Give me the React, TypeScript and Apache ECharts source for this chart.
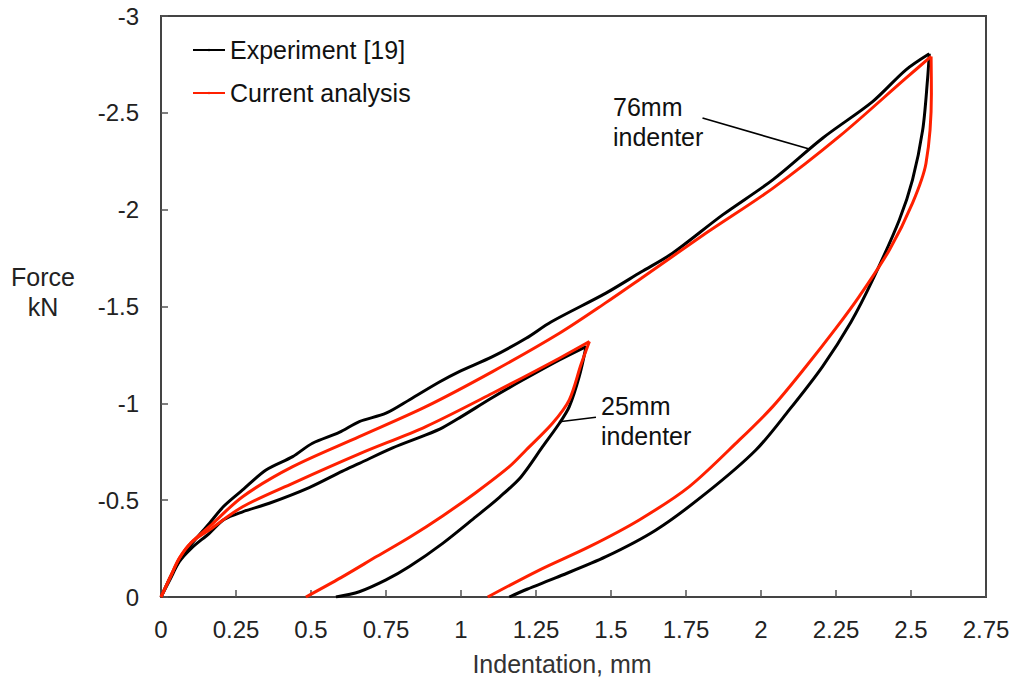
import React, { useEffect, useRef } from "react";
import * as echarts from "echarts";

const xTicks = { min: 0, max: 2.75, interval: 0.25 };
const yTicks = { min: -3, max: 0, interval: 0.5 };

const expName = "Experiment [19]";
const simName = "Current analysis";

// 76mm indenter, experiment
const exp76Load: number[][] = [
  [0, 0], [0.03, -0.1], [0.062, -0.19], [0.1, -0.27], [0.161, -0.38], [0.21, -0.47],
  [0.272, -0.553], [0.35, -0.656], [0.439, -0.725], [0.505, -0.794], [0.594, -0.85],
  [0.661, -0.906], [0.75, -0.949], [0.83, -1.02], [0.928, -1.11], [0.994, -1.164],
  [1.105, -1.241], [1.217, -1.336], [1.3, -1.42], [1.483, -1.569], [1.6, -1.678],
  [1.705, -1.775], [1.872, -1.973], [2.039, -2.154], [2.205, -2.369], [2.372, -2.558],
  [2.483, -2.722], [2.561, -2.805],
];
const exp76Unload: number[][] = [
  [2.561, -2.805], [2.555, -2.67], [2.539, -2.412], [2.505, -2.154], [2.461, -1.947],
  [2.372, -1.637], [2.3, -1.42], [2.205, -1.19], [2.094, -0.966], [1.983, -0.759],
  [1.817, -0.536], [1.65, -0.346], [1.483, -0.208], [1.317, -0.1], [1.22, -0.04], [1.161, 0],
];

// 76mm indenter, current analysis
const sim76Load: number[][] = [
  [0, 0], [0.03, -0.1], [0.061, -0.2], [0.1, -0.28], [0.161, -0.363], [0.272, -0.518],
  [0.439, -0.673], [0.661, -0.828], [0.883, -0.983], [1.105, -1.164], [1.328, -1.362],
  [1.483, -1.52], [1.6, -1.645], [1.817, -1.879], [2.039, -2.11], [2.261, -2.378],
  [2.483, -2.679], [2.567, -2.791],
];
const sim76Unload: number[][] = [
  [2.567, -2.791], [2.568, -2.6], [2.55, -2.24], [2.505, -2.034], [2.428, -1.792],
  [2.327, -1.551], [2.25, -1.388], [2.15, -1.19], [2.039, -0.983], [1.928, -0.811],
  [1.761, -0.57], [1.594, -0.398], [1.428, -0.26], [1.261, -0.139], [1.089, 0],
];

// 25mm indenter, experiment
const exp25Load: number[][] = [
  [0, 0], [0.03, -0.09], [0.061, -0.182], [0.1, -0.25], [0.161, -0.329], [0.21, -0.4],
  [0.272, -0.44], [0.361, -0.484], [0.494, -0.565], [0.605, -0.65], [0.661, -0.69],
  [0.772, -0.77], [0.883, -0.837], [0.939, -0.875], [1.0, -0.93], [1.105, -1.03],
  [1.2, -1.115], [1.328, -1.224], [1.417, -1.293],
];
const exp25Unload: number[][] = [
  [1.417, -1.293], [1.394, -1.138], [1.361, -0.983], [1.328, -0.897], [1.272, -0.776],
  [1.2, -0.62], [1.128, -0.515], [1.05, -0.415], [0.939, -0.277], [0.828, -0.157],
  [0.75, -0.088], [0.661, -0.027], [0.583, 0],
];

// 25mm indenter, current analysis
const sim25Load: number[][] = [
  [0, 0], [0.03, -0.1], [0.061, -0.2], [0.1, -0.28], [0.161, -0.346], [0.272, -0.466],
  [0.439, -0.587], [0.661, -0.739], [0.883, -0.88], [1.105, -1.052], [1.328, -1.233],
  [1.428, -1.319],
];
const sim25Unload: number[][] = [
  [1.428, -1.319], [1.4, -1.2], [1.361, -1.018], [1.305, -0.897], [1.217, -0.759],
  [1.161, -0.673], [1.05, -0.54], [0.94, -0.42], [0.83, -0.31], [0.72, -0.21],
  [0.6, -0.1], [0.483, 0],
];

// leader lines of the annotations, in data coordinates
const leader76 = [[1.805, -2.473], [2.161, -2.313]];
const leader25 = [[1.45, -0.928], [1.328, -0.905]];

const FONT = "Liberation Sans, Arial, sans-serif";
const BLACK = "#000";
const RED = "#ff2000";

export default function App() {
  const ref = useRef<HTMLDivElement>(null);
  useEffect(() => {
    if (!ref.current) return;
    const chart = echarts.init(ref.current, undefined, { renderer: "svg" });
    const lineSeries = (name: string, data: number[][], color: string, extra: any = {}) => ({
      type: "line",
      name,
      data,
      symbol: "none",
      smooth: 0.3,
      lineStyle: { color, width: 3 },
      itemStyle: { color },
      ...extra,
    });
    chart.setOption({
      animation: false,
      backgroundColor: "#fff",
      textStyle: { fontFamily: FONT },
      grid: {
        left: 161, right: 30, top: 16, bottom: 90,
        show: true, borderColor: "#444", borderWidth: 2, backgroundColor: "transparent",
      },
      legend: {
        data: [expName, simName],
        orient: "vertical",
        left: 192,
        top: 35,
        padding: 0,
        itemWidth: 32,
        itemHeight: 3,
        itemGap: 13,
        textStyle: { fontSize: 25, color: "#111", fontFamily: FONT, lineHeight: 30 },
      },
      xAxis: {
        type: "value",
        min: xTicks.min, max: xTicks.max, interval: xTicks.interval,
        axisLine: { show: true, onZero: false, lineStyle: { color: "#444", width: 2 } },
        axisTick: { show: true, inside: true, length: 7, lineStyle: { color: "#555", width: 1.5 } },
        axisLabel: { fontSize: 24, color: "#222", margin: 20, fontFamily: FONT },
        splitLine: { show: false },
      },
      yAxis: {
        type: "value",
        inverse: true,
        min: yTicks.min, max: yTicks.max, interval: yTicks.interval,
        axisLine: { show: true, onZero: false, lineStyle: { color: "#444", width: 2 } },
        axisTick: { show: true, inside: true, length: 7, lineStyle: { color: "#555", width: 1.5 } },
        axisLabel: { fontSize: 24, color: "#222", margin: 22, fontFamily: FONT },
        splitLine: { show: false },
      },
      series: [
        lineSeries(expName, exp76Load, BLACK, {
          markLine: {
            silent: true,
            symbol: "none",
            label: { show: false },
            lineStyle: { color: BLACK, width: 1.6, type: "solid" },
            data: [
              [{ coord: leader76[0] }, { coord: leader76[1] }],
              [{ coord: leader25[0] }, { coord: leader25[1] }],
            ],
          },
        }),
        lineSeries(expName, exp76Unload, BLACK),
        lineSeries(expName, exp25Load, BLACK),
        lineSeries(expName, exp25Unload, BLACK),
        lineSeries(simName, sim76Load, RED),
        lineSeries(simName, sim76Unload, RED),
        lineSeries(simName, sim25Load, RED),
        lineSeries(simName, sim25Unload, RED),
      ],
      graphic: [
        {
          type: "text", x: 613, y: 92,
          style: { text: "76mm\nindenter", fontSize: 25, lineHeight: 30, fill: "#111", font: `25px ${FONT}` },
        },
        {
          type: "text", x: 601, y: 391,
          style: { text: "25mm\nindenter", fontSize: 25, lineHeight: 30, fill: "#111", font: `25px ${FONT}` },
        },
        {
          type: "text", x: 562, y: 664,
          style: { text: "Indentation, mm", fontSize: 25, fill: "#333", align: "center", verticalAlign: "middle", font: `25px ${FONT}` },
        },
        {
          type: "text", x: 43, y: 277,
          style: { text: "Force", fontSize: 25, fill: "#222", align: "center", verticalAlign: "middle", font: `25px ${FONT}` },
        },
        {
          type: "text", x: 43, y: 307,
          style: { text: "kN", fontSize: 25, fill: "#222", align: "center", verticalAlign: "middle", font: `25px ${FONT}` },
        },
      ],
    });
    return () => chart.dispose();
  }, []);
  return (
    <div
      ref={ref}
      style={{ position: "fixed", left: 0, top: 0, width: 1016, height: 687, background: "#fff" }}
    />
  );
}
